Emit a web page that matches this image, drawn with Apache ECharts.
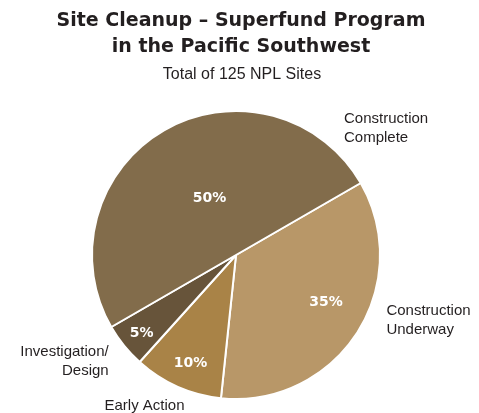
<!DOCTYPE html>
<html>
<head>
<meta charset="utf-8">
<script src="https://cdn.jsdelivr.net/npm/echarts@6/dist/echarts.min.js"></script>
<style>
    html, body { margin: 0; padding: 0; background: #fff; }
    #chart { width: 479px; height: 413px; }
</style>
</head>
<body>
<div id="chart"></div>
<script>
(function () {

    // slice order runs clockwise from the upper right edge
    var stages = ['Construction Underway', 'Early Action', 'Investigation/Design', 'Construction Complete'];
    var shares = [35, 10, 5, 50];
    var colors = ['#b89768', '#a98347', '#67543a', '#826c4b'];

    var nameText = [
        '{l|Construction}\n{l|Underway}',
        'Early Action',
        '{r|Investigation/}\n{r|Design}',
        '{l|Construction}\n{l|Complete}'
    ];
    // nudges for the labels, pie default puts them halfway out
    var pctOffset = [[27, 7], [-15, 40], [-36, 31], [11, 8]];
    var nameOffset = [[135, 25], [-61, 82], [-119, 59], [193, -62]];

    var font = '"Liberation Sans", Arial, Helvetica, sans-serif';
    var heavy = '"DejaVu Sans", "Liberation Sans", sans-serif';

    function $each(arr, fn) {
        for (var i = 0; i < arr.length; i++) fn(i, arr[i]);
    }

    var pctData = [];
    var nameData = [];
    $each(stages, function (i, v) {
        pctData.push({
            name: v,
            value: shares[i],
            itemStyle: { color: colors[i] },
            label: { offset: pctOffset[i] }
        });
        nameData.push({
            name: v,
            value: shares[i],
            label: { offset: nameOffset[i], formatter: nameText[i] }
        });
    });

    var pieBase = {
        type: 'pie',
        center: [236, 255],
        radius: [0, 144],
        startAngle: 30,
        clockwise: true,
        animation: false,
        silent: true,
        labelLine: { show: false }
    };

    var _option = {
        backgroundColor: '#fff',
        title: [{
            text: 'Site Cleanup \u2013 Superfund Program\nin the Pacific Southwest',
            left: 236,
            top: 3,
            textAlign: 'center',
            textStyle: {
                fontFamily: heavy,
                fontWeight: 'bold',
                fontSize: 19,
                lineHeight: 26,
                color: '#231f20'
            }
        }, {
            text: 'Total of 125 NPL Sites',
            left: 237,
            top: 62,
            textAlign: 'center',
            textStyle: {
                fontFamily: font,
                fontWeight: 'normal',
                fontSize: 16,
                color: '#231f20'
            }
        }],
        series: [
            Object.assign({}, pieBase, {
                itemStyle: { borderColor: '#fff', borderWidth: 2 },
                label: {
                    show: true,
                    position: 'inside',
                    formatter: '{c}%',
                    color: '#fff',
                    fontFamily: heavy,
                    fontWeight: 'bold',
                    fontSize: 14
                },
                data: pctData
            }),
            Object.assign({}, pieBase, {
                itemStyle: { color: 'rgba(0,0,0,0)', borderWidth: 0 },
                label: {
                    show: true,
                    position: 'inside',
                    color: '#231f20',
                    fontFamily: font,
                    fontSize: 15,
                    lineHeight: 19,
                    rich: {
                        l: { width: 95, align: 'left', color: '#231f20', fontFamily: font, fontSize: 15, lineHeight: 19 },
                        r: { width: 100, align: 'right', color: '#231f20', fontFamily: font, fontSize: 15, lineHeight: 19 }
                    }
                },
                data: nameData
            })
        ]
    };

    var EChart = echarts.init(document.getElementById('chart'));
    EChart.setOption(_option, true);
})();
</script>
</body>
</html>
